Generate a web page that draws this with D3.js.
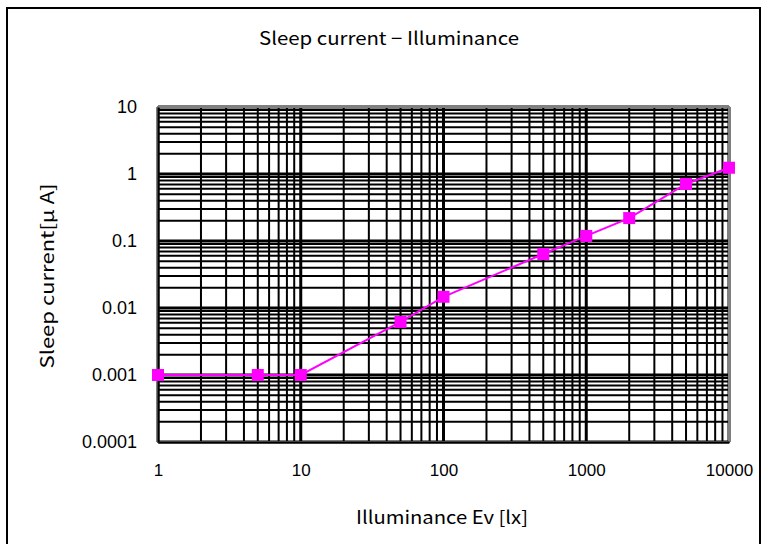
<!DOCTYPE html>
<html>
<head>
<meta charset="utf-8">
<script src="https://d3js.org/d3.v7.min.js"></script>
<style>
  body { margin: 0; background: #fff; }
</style>
</head>
<body>
<script>
// data
const illuminance = [1, 5, 10, 50, 100, 500, 1000, 2000, 5000, 10000];
const sleepCurrent = [0.001, 0.001, 0.001, 0.0062, 0.0147, 0.064, 0.119, 0.22, 0.71, 1.24];
const xTicks = [1, 10, 100, 1000, 10000];
const yTicks = [0.0001, 0.001, 0.01, 0.1, 1, 10];
const yTickLabels = ["0.0001", "0.001", "0.01", "0.1", "1", "10"];

const W = 763, H = 544;
const plot = { left: 158, top: 107, right: 729, bottom: 442 };
const gothic = "'Noto Sans CJK JP', 'DejaVu Sans', sans-serif";
const arial = "'Liberation Sans', Arial, sans-serif";

let svg = d3.select("body").append("svg").attr("width", W).attr("height", H);

// outer chart frame
svg.append("rect")
   .attr("x", 7).attr("y", 8).attr("width", 753).attr("height", 545)
   .attr("fill", "#fff").attr("stroke", "#000").attr("stroke-width", 2);

let x = d3.scaleLog().domain([1, 10000]).range([plot.left, plot.right]);
let y = d3.scaleLog().domain([0.0001, 10]).range([plot.bottom, plot.top]);

// minor + major gridlines
function minors(dom) {
  let out = [];
  for (let e = Math.log10(dom[0]); e < Math.log10(dom[1]); e++) {
    for (let k = 2; k <= 9; k++) out.push(k * Math.pow(10, e));
  }
  return out;
}
let grid = svg.append("g");
grid.selectAll("line.xm").data(minors(x.domain())).enter().append("line")
    .attr("x1", d => x(d)).attr("x2", d => x(d))
    .attr("y1", plot.top).attr("y2", plot.bottom)
    .attr("stroke", "#000").attr("stroke-width", 2);
grid.selectAll("line.ym").data(minors(y.domain())).enter().append("line")
    .attr("y1", d => y(d)).attr("y2", d => y(d))
    .attr("x1", plot.left).attr("x2", plot.right)
    .attr("stroke", "#000").attr("stroke-width", 2);
grid.selectAll("line.xM").data(xTicks).enter().append("line")
    .attr("x1", d => x(d)).attr("x2", d => x(d))
    .attr("y1", plot.top).attr("y2", plot.bottom)
    .attr("stroke", "#000").attr("stroke-width", 3);
grid.selectAll("line.yM").data(yTicks).enter().append("line")
    .attr("y1", d => y(d)).attr("y2", d => y(d))
    .attr("x1", plot.left).attr("x2", plot.right)
    .attr("stroke", "#000").attr("stroke-width", 3);

// plot frame: grey top/right, black axes
svg.append("rect")
   .attr("x", plot.left).attr("y", plot.top)
   .attr("width", plot.right - plot.left).attr("height", plot.bottom - plot.top)
   .attr("fill", "none").attr("stroke", "#808080").attr("stroke-width", 2);

let bottomAxis = d3.axisBottom(x).tickValues(xTicks).tickFormat(d3.format("d")).tickSize(0).tickPadding(22);
svg.append("g")
   .attr("transform", "translate(0," + plot.bottom + ")")
   .call(bottomAxis)
   .call(g => g.select(".domain").attr("stroke", "#000").attr("stroke-width", 2))
   .selectAll("text").attr("font-family", arial).attr("font-size", "17px").attr("fill", "#000");

let leftAxis = d3.axisLeft(y).tickValues(yTicks).tickFormat((d, i) => yTickLabels[i]).tickSize(0).tickPadding(21);
svg.append("g")
   .attr("transform", "translate(" + plot.left + ",0)")
   .call(leftAxis)
   .call(g => g.select(".domain").attr("stroke", "#000").attr("stroke-width", 2))
   .selectAll("text").attr("font-family", arial).attr("font-size", "18px").attr("fill", "#000");

// series
let pts = illuminance.map((v, i) => [v, sleepCurrent[i]]);
svg.append("path")
   .datum(pts)
   .attr("fill", "none").attr("stroke", "#FF00FF").attr("stroke-width", 2)
   .attr("d", d3.line().x(d => x(d[0])).y(d => y(d[1])));
svg.selectAll("rect.pt").data(pts).enter().append("rect")
   .attr("class", "pt")
   .attr("x", d => x(d[0]) - 6).attr("y", d => y(d[1]) - 6)
   .attr("width", 12).attr("height", 12)
   .attr("fill", "#FF00FF");

// titles
svg.append("text")
   .attr("x", 389).attr("y", 45)
   .attr("text-anchor", "middle").attr("font-family", gothic).attr("font-size", "18px")
   .attr("textLength", 260).attr("lengthAdjust", "spacingAndGlyphs")
   .text("Sleep current − Illuminance");
svg.append("text")
   .attr("x", 442).attr("y", 524)
   .attr("text-anchor", "middle").attr("font-family", gothic).attr("font-size", "18px")
   .attr("textLength", 172).attr("lengthAdjust", "spacingAndGlyphs")
   .text("Illuminance Ev [lx]");
svg.append("text")
   .attr("transform", "translate(54,276) rotate(-90)")
   .attr("text-anchor", "middle").attr("font-family", gothic).attr("font-size", "18px")
   .attr("textLength", 185).attr("lengthAdjust", "spacingAndGlyphs")
   .text("Sleep current[μ A]");
</script>
</body>
</html>
